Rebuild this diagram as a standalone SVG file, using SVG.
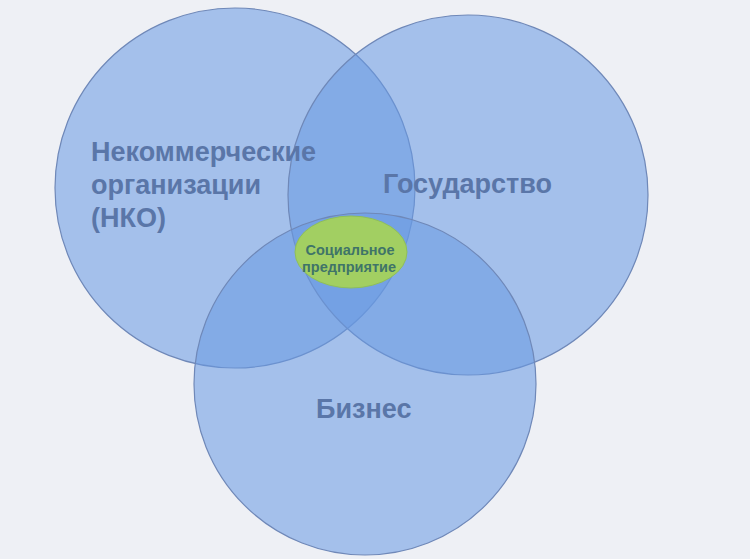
<svg xmlns="http://www.w3.org/2000/svg" width="750" height="559" viewBox="0 0 750 559">
<style>
.c{fill:#6899e1;fill-opacity:0.55;stroke:#6f88b8;stroke-width:1.2}
.t{font-family:"Liberation Sans",Arial,sans-serif;font-weight:bold;fill:#5a76a8;font-size:27px}
.s{font-family:"Liberation Sans",Arial,sans-serif;font-weight:bold;fill:#3f7468;font-size:14.5px}
</style>
<rect width="750" height="559" fill="#eef0f5"/>
<g id="nko"><circle class="c" cx="235" cy="188" r="180"/></g>
<g id="gos"><circle class="c" cx="468" cy="195" r="180"/></g>
<g id="biz"><circle class="c" cx="365" cy="384" r="171"/></g>
<g id="soc"><ellipse cx="351" cy="252" rx="56" ry="36" fill="#a2cf62" stroke="#8fbf5a" stroke-width="1"/>
<text class="s" x="350" y="255" text-anchor="middle">Социальное</text>
<text class="s" x="349" y="272" text-anchor="middle">предприятие</text></g>
<g id="labels">
<text class="t" x="91" y="161">Некоммерческие</text>
<text class="t" x="91" y="194">организации</text>
<text class="t" x="91" y="227">(НКО)</text>
<text class="t" x="383" y="193">Государство</text>
<text class="t" x="316" y="418">Бизнес</text>
</g>
<g id="connectors"/>
</svg>
